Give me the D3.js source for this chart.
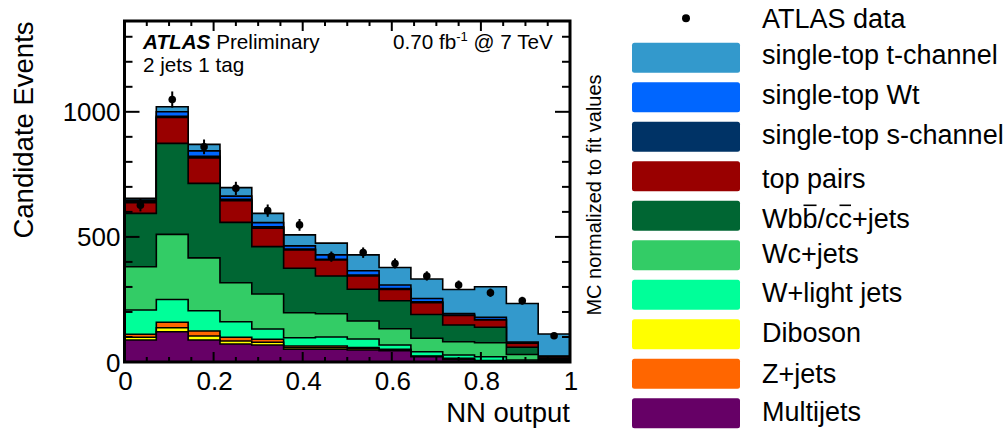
<!DOCTYPE html>
<html><head><meta charset="utf-8">
<script src="https://cdn.jsdelivr.net/npm/d3@7"></script>
<style>
body{margin:0;background:#fff}
svg{display:block}
text{font-family:"Liberation Sans",Arial,Helvetica,sans-serif;fill:#000}
</style>
</head><body>
<svg id="c" width="1008" height="430"></svg>
<script>
// ---------------- DATA ----------------
const binEdges = [0,1/14,2/14,3/14,4/14,5/14,6/14,7/14,8/14,9/14,10/14,11/14,12/14,13/14,1];
const dataCounts = [627,1049,860,694,605,548,421,437,394,344,308,277,245,105];
// stacked components (bottom -> top), events per bin
const multijets = [88,121,88,72,68,51,51,48,45,21,9,4,1,1];
const diboson   = [11,16,16,12,11,6,6,5,3,1,2,1,1,0.5];
const zjets     = [12,22,20,15,12,7,7,5,3,2,4,1,1,0.5];
const wlight    = [97,91,81,62,41,33,36,34,17,17,13,15,5,4];
const wc        = [173,260,211,156,140,100,93,72,65,54,53,56,22,4];
const wbb       = [213,364,298,241,189,178,151,127,112,95,67,62,29,5];
const ttbar     = [43,103,102,87,74,73,64,53,45,47,38,29,16,5];
const schan     = [3,5,6,5,5,3,3,4,4,4,2,2,1,2];
const wt        = [7,18,22,13,17,13,17,17,14,13,6,9,4,2];
const tchan     = [7,20,26,34,37,44,47,63,70,78,96,122,154,88];

const seriesKeys   = ["multijets","diboson","zjets","wlight","wc","wbb","ttbar","schan","wt","tchan"];
const seriesValues = {multijets,diboson,zjets,wlight,wc,wbb,ttbar,schan,wt,tchan};
const seriesColors = {multijets:"#660066",diboson:"#ffff00",zjets:"#ff6600",wlight:"#00ff99",
  wc:"#33cc66",wbb:"#006633",ttbar:"#990000",schan:"#003366",wt:"#0066ff",tchan:"#3399cc"};
const legendKeys   = ["data","tchan","wt","schan","ttbar","wbb","wc","wlight","diboson","zjets","multijets"];
const legendLabels = ["ATLAS data","single-top t-channel","single-top Wt","single-top s-channel","top pairs",
  "Wbb/cc+jets","Wc+jets","W+light jets","Diboson","Z+jets","Multijets"];
const xMajor = [0,0.2,0.4,0.6,0.8,1];
const xTickLabels = ["0","0.2","0.4","0.6","0.8","1"];
const xMinor = [0.05,0.1,0.15,0.25,0.3,0.35,0.45,0.5,0.55,0.65,0.7,0.75,0.85,0.9,0.95];
const yMajor = [0,500,1000];
const yTickLabels = ["0","500","1000"];
const yMinor = [100,200,300,400,600,700,800,900,1100,1200,1300];

// ---------------- LAYOUT ----------------
const svg = d3.select("#c");
const X0 = 124.5, X1 = 570, Y0 = 362, Y1 = 21;
const x = d3.scaleLinear().domain([0,1]).range([X0,X1]);
const y = d3.scaleLinear().domain([0,1363]).range([Y0,Y1]);

svg.append("defs").append("clipPath").attr("id","pc")
  .append("rect").attr("x",X0).attr("y",Y1).attr("width",X1-X0).attr("height",Y0-Y1);

const table = dataCounts.map((d,i)=>{const o={bin:i}; seriesKeys.forEach(k=>o[k]=seriesValues[k][i]); return o;});
const stacked = d3.stack().keys(seriesKeys)(table);

const g = svg.append("g").attr("clip-path","url(#pc)");
const line = d3.line().x(p=>x(p[0])).y(p=>y(p[1]));
// draw from top of stack downward, each as filled step histogram from 0
stacked.slice().reverse().forEach(layer=>{
  const pts = [[0,0]];
  layer.forEach((d,i)=>{ pts.push([binEdges[i],d[1]]); pts.push([binEdges[i+1],d[1]]); });
  pts.push([1,0]);
  g.append("path").attr("d",line(pts)+"Z")
    .attr("fill",seriesColors[layer.key]).attr("stroke","#000").attr("stroke-width",1.6)
    .attr("stroke-linejoin","miter");
});

// data points
const mids = dataCounts.map((d,i)=>(binEdges[i]+binEdges[i+1])/2);
const dg = svg.append("g");
dataCounts.forEach((n,i)=>{
  const e = Math.sqrt(n);
  dg.append("line").attr("x1",x(mids[i])).attr("x2",x(mids[i]))
    .attr("y1",y(n-e)).attr("y2",y(n+e)).attr("stroke","#000").attr("stroke-width",2);
  dg.append("circle").attr("cx",x(mids[i])).attr("cy",y(n)).attr("r",3.8).attr("fill","#000");
});

// axes ticks (inward, ROOT style, on all four sides)
const ax = svg.append("g").attr("stroke","#000");
xMajor.forEach(v=>{
  ax.append("line").attr("x1",x(v)).attr("x2",x(v)).attr("y1",Y0).attr("y2",Y0-10).attr("stroke-width",2);
  ax.append("line").attr("x1",x(v)).attr("x2",x(v)).attr("y1",Y1).attr("y2",Y1+10).attr("stroke-width",2);
});
xMinor.forEach(v=>{
  ax.append("line").attr("x1",x(v)).attr("x2",x(v)).attr("y1",Y0).attr("y2",Y0-5).attr("stroke-width",2);
  ax.append("line").attr("x1",x(v)).attr("x2",x(v)).attr("y1",Y1).attr("y2",Y1+5).attr("stroke-width",2);
});
yMajor.forEach(v=>{
  ax.append("line").attr("x1",X0).attr("x2",X0+15).attr("y1",y(v)).attr("y2",y(v)).attr("stroke-width",2);
  ax.append("line").attr("x1",X1).attr("x2",X1-15).attr("y1",y(v)).attr("y2",y(v)).attr("stroke-width",2);
});
yMinor.forEach(v=>{
  ax.append("line").attr("x1",X0).attr("x2",X0+8).attr("y1",y(v)).attr("y2",y(v)).attr("stroke-width",2);
  ax.append("line").attr("x1",X1).attr("x2",X1-8).attr("y1",y(v)).attr("y2",y(v)).attr("stroke-width",2);
});
svg.append("rect").attr("x",X0).attr("y",Y1).attr("width",X1-X0).attr("height",Y0-Y1)
  .attr("fill","none").attr("stroke","#000").attr("stroke-width",3);

// tick labels
xMajor.forEach((v,i)=>{
  svg.append("text").attr("x",x(v)+1).attr("y",390).attr("text-anchor","middle")
    .attr("font-size",26).text(xTickLabels[i]);
});
yMajor.forEach((v,i)=>{
  svg.append("text").attr("x",X0-4).attr("y",y(v)+9.5).attr("text-anchor","end")
    .attr("font-size",26).text(yTickLabels[i]);
});

// axis titles
svg.append("text").attr("x",X1).attr("y",421.5).attr("text-anchor","end").attr("font-size",27.5).text("NN output");
svg.append("text").attr("transform","translate(33,130) rotate(-90)").attr("text-anchor","middle")
  .attr("font-size",27.5).text("Candidate Events");
svg.append("text").attr("transform","translate(601,195) rotate(-90)").attr("text-anchor","middle")
  .attr("font-size",20).text("MC normalized to fit values");

// annotations
const t1 = svg.append("text").attr("x",143).attr("y",49).attr("font-size",20.7);
t1.append("tspan").attr("font-weight","bold").attr("font-style","italic").text("ATLAS");
t1.append("tspan").text(" Preliminary");
svg.append("text").attr("x",143).attr("y",72).attr("font-size",20.7).text("2 jets 1 tag");
const t2 = svg.append("text").attr("x",393).attr("y",49).attr("font-size",20.7);
t2.append("tspan").text("0.70 fb");
t2.append("tspan").attr("font-size",13).attr("dy",-8).text("-1");
t2.append("tspan").attr("dy",8).text(" @ 7 TeV");

// legend
const rowTop = i => 3.2 + 39.5*i;
const textDy = [25,21.5,22,21.8,27,27.6,23,22,22.5,24.6,22.5];
const lg = svg.append("g");
legendKeys.forEach((k,i)=>{
  if(k==="data"){
    lg.append("circle").attr("cx",686).attr("cy",rowTop(i)+15).attr("r",4).attr("fill","#000");
  } else {
    lg.append("rect").attr("x",632).attr("y",rowTop(i)).attr("width",108).attr("height",30)
      .attr("rx",2.5).attr("fill",seriesColors[k]);
  }
  const t = lg.append("text").attr("x",762).attr("y",rowTop(i)+textDy[i]).attr("font-size",27).text(legendLabels[i]);
  if(k==="wbb"){
    const node = t.node();
    [2,5].forEach(ci=>{
      const ext = node.getExtentOfChar(ci);
      const base = rowTop(i)+textDy[i];
      const yy = base-23;
      lg.append("line").attr("x1",ext.x+1).attr("x2",ext.x+ext.width-1)
        .attr("y1",yy).attr("y2",yy).attr("stroke","#000").attr("stroke-width",1.6);
    });
  }
});
</script>
</body></html>
